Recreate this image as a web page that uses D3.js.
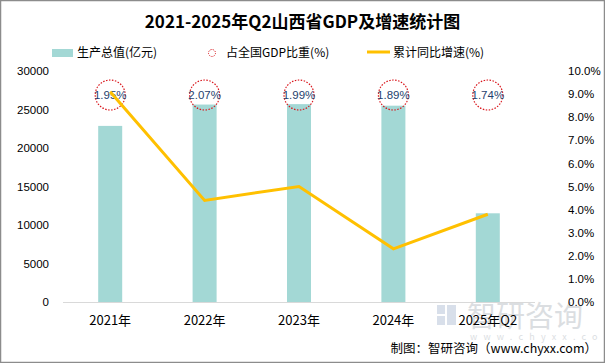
<!DOCTYPE html>
<html>
<head>
<meta charset="utf-8">
<script src="https://cdn.jsdelivr.net/npm/d3@7"></script>
<style>
  body { margin: 0; background: #fff; }
  svg { display: block; font-family: "Microsoft YaHei", "Noto Sans CJK SC", sans-serif; }
</style>
</head>
<body>
<div id="chart"></div>
<script>
const categories = ["2021年", "2022年", "2023年", "2024年", "2025年Q2"];
const gdp = [22870, 25643, 25698, 25495, 11520];
const share = [1.95, 2.07, 1.99, 1.89, 1.74];
const growth = [9.1, 4.4, 5.0, 2.3, 3.8];
const leftTicks = [0, 5000, 10000, 15000, 20000, 25000, 30000];
const rightTicks = [0, 1, 2, 3, 4, 5, 6, 7, 8, 9, 10];

const W = 605, H = 363;
const margin = {top: 71, right: 70, bottom: 61, left: 63};
const width = W - margin.left - margin.right;
const height = H - margin.top - margin.bottom;

const svg = d3.select("#chart").append("svg")
    .attr("width", W).attr("height", H);

// frame
svg.append("rect").attr("x", 0.5).attr("y", 0.5)
    .attr("width", W - 1).attr("height", H - 1)
    .attr("fill", "#fff").attr("stroke", "#8c8c8c").attr("stroke-width", 1.5);

// watermark
const wm = svg.append("g").attr("opacity", 0.3);
wm.append("text").attr("x", 467).attr("y", 327)
    .attr("font-size", 29).attr("fill", "#8a939e").attr("font-family", "Noto Sans CJK SC")
    .text("智研咨询");
wm.append("text").attr("x", 470).attr("y", 340)
    .attr("font-size", 9).attr("fill", "#8a939e").attr("letter-spacing", 6.2)
    .text("www.chyxx.com");
wm.append("rect").attr("x", 437).attr("y", 305).attr("width", 8).attr("height", 9).attr("fill", "#7f98bd");
wm.append("rect").attr("x", 447).attr("y", 305).attr("width", 9).attr("height", 20).attr("fill", "#7f98bd");
wm.append("rect").attr("x", 437).attr("y", 316).attr("width", 8).attr("height", 9).attr("fill", "#7f98bd");

// title
svg.append("text").attr("x", W / 2).attr("y", 28)
    .attr("text-anchor", "middle").attr("font-size", 17).attr("font-weight", "bold")
    .attr("font-family", "Noto Sans CJK SC")
    .text("2021-2025年Q2山西省GDP及增速统计图");

const g = svg.append("g").attr("transform", `translate(${margin.left},${margin.top})`);

const x = d3.scaleBand().domain(categories).range([0, width]);
const yL = d3.scaleLinear().domain([0, 30000]).range([height, 0]);
const yR = d3.scaleLinear().domain([0, 10]).range([height, 0]);

// left axis
const axL = g.append("g").attr("transform", "translate(-14,0)")
    .call(d3.axisLeft(yL).tickValues(leftTicks).tickSize(0).tickPadding(0).tickFormat(d3.format("d")));
axL.select(".domain").remove();
axL.selectAll("text").attr("font-size", 11.5).attr("fill", "#000")
    .attr("font-family", "Liberation Sans, sans-serif");

// right axis
const axR = g.append("g").attr("transform", `translate(${width + 33},0)`)
    .call(d3.axisRight(yR).tickValues(rightTicks).tickSize(0).tickPadding(0)
        .tickFormat(d => d.toFixed(1) + "%"));
axR.select(".domain").remove();
axR.selectAll("text").attr("font-size", 11.5).attr("fill", "#000")
    .attr("font-family", "Liberation Sans, sans-serif");

// baseline
g.append("line").attr("x1", 0).attr("x2", width)
    .attr("y1", height + 0.5).attr("y2", height + 0.5)
    .attr("stroke", "#d9d9d9");

// bars
const bw = 24;
g.selectAll(".bar").data(gdp).enter().append("rect")
    .attr("x", (d, i) => x(categories[i]) + x.bandwidth() / 2 - bw / 2)
    .attr("y", d => yL(d))
    .attr("width", bw)
    .attr("height", d => height - yL(d))
    .attr("fill", "#a3d8d5");

// x labels
const axX = g.append("g").attr("transform", `translate(0,${height})`)
    .call(d3.axisBottom(x).tickSize(0).tickPadding(14));
axX.select(".domain").remove();
axX.selectAll("text").attr("font-size", 13).attr("fill", "#000")
    .attr("font-family", "Noto Sans CJK SC");

// share circles
const cy = 24;
const sg = g.selectAll(".share").data(share).enter().append("g")
    .attr("transform", (d, i) => `translate(${x(categories[i]) + x.bandwidth() / 2},${cy})`);
sg.append("circle").attr("r", 15).attr("fill", "none")
    .attr("stroke", "#d9151b").attr("stroke-width", 1.2).attr("stroke-dasharray", "1.5,1.5");
sg.append("text").attr("text-anchor", "middle").attr("dy", "0.36em")
    .attr("font-size", 11.5).attr("fill", "#1f3f6e")
    .attr("font-family", "Liberation Sans, sans-serif")
    .text(d => d.toFixed(2) + "%");

// growth line
const line = d3.line()
    .x((d, i) => x(categories[i]) + x.bandwidth() / 2)
    .y(d => yR(d));
g.append("path").datum(growth).attr("d", line)
    .attr("fill", "none").attr("stroke", "#ffc000").attr("stroke-width", 3);

// legend
const lg = svg.append("g").attr("font-size", 12).attr("font-family", "Noto Sans CJK SC");
lg.append("rect").attr("x", 52).attr("y", 49).attr("width", 21).attr("height", 8).attr("fill", "#a3d8d5");
lg.append("text").attr("x", 77).attr("y", 57).text("生产总值(亿元)");
lg.append("circle").attr("cx", 212).attr("cy", 53).attr("r", 3.5).attr("fill", "none")
    .attr("stroke", "#d9151b").attr("stroke-dasharray", "1.2,1.2");
lg.append("text").attr("x", 226).attr("y", 57).text("占全国GDP比重(%)");
lg.append("line").attr("x1", 367).attr("x2", 390).attr("y1", 52).attr("y2", 52)
    .attr("stroke", "#ffc000").attr("stroke-width", 3);
lg.append("text").attr("x", 393).attr("y", 57).text("累计同比增速(%)");

// source
svg.append("text").attr("x", 597).attr("y", 353).attr("text-anchor", "end")
    .attr("font-size", 12.5).attr("font-family", "Noto Sans CJK SC")
    .text("制图：智研咨询（www.chyxx.com）");
</script>
</body>
</html>
